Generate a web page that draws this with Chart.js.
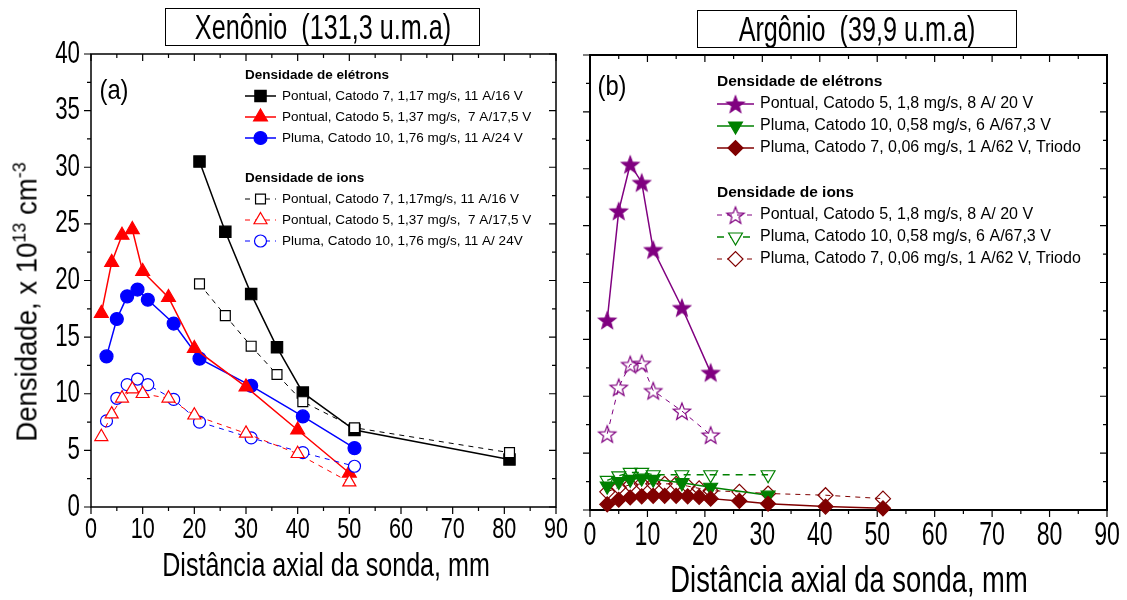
<!DOCTYPE html>
<html><head><meta charset="utf-8">
<script src="https://cdn.jsdelivr.net/npm/chart.js@4/dist/chart.umd.min.js"></script>
<style>
body{margin:0;width:1127px;height:600px;position:relative;background:#fff;overflow:hidden;font-family:'Liberation Sans',Arial,sans-serif;}
canvas{position:absolute;top:0;}
.box{position:absolute;border:1.5px solid #000;background:#fff;box-sizing:border-box;}
.box span{position:absolute;left:50%;top:50%;white-space:nowrap;font-size:35px;transform:translate(-50%,-50%) scaleX(0.72);}
.txt{position:absolute;white-space:nowrap;}
sup{font-size:65%;vertical-align:super;line-height:0;}
</style></head>
<body>
<canvas id="ca" width="575" height="600" style="left:0;width:575px;height:600px"></canvas>
<canvas id="cb" width="552" height="600" style="left:575px;width:552px;height:600px"></canvas>
<div class="box" style="left:165px;top:8px;width:315px;height:38px;"><span>Xenônio&nbsp; (131,3 u.m.a)</span></div>
<div class="box" style="left:697px;top:10px;width:320px;height:38px;"><span>Argônio&nbsp; (39,9 u.m.a)</span></div>
<div class="txt" style="left:114px;top:90px;font-size:28px;transform:translate(-50%,-50%) scaleX(0.85);">(a)</div>
<div class="txt" style="left:612px;top:86px;font-size:28px;transform:translate(-50%,-50%) scaleX(0.85);">(b)</div>
<div class="txt" style="left:326px;top:565px;font-size:33px;transform:translate(-50%,-50%) scaleX(0.76);">Distância axial da sonda, mm</div>
<div class="txt" style="left:849px;top:580px;font-size:36px;transform:translate(-50%,-50%) scaleX(0.76);">Distância axial da sonda, mm</div>
<div class="txt" style="left:27px;top:302px;font-size:29px;transform:translate(-50%,-50%) rotate(-90deg) scaleX(0.95);">Densidade, x 10<sup>13</sup> cm<sup>-3</sup></div>
<script>
// ---------- DATA ----------
const xeNames = ["Pontual, Catodo 7, 1,17 mg/s, 11 A/16 V","Pontual, Catodo 5, 1,37 mg/s,  7 A/17,5 V","Pluma, Catodo 10, 1,76 mg/s, 11 A/24 V"];
const xeIonNames = ["Pontual, Catodo 7, 1,17mg/s, 11 A/16 V","Pontual, Catodo 5, 1,37 mg/s,  7 A/17,5 V","Pluma, Catodo 10, 1,76 mg/s, 11 A/ 24V"];
const xeBlackX = [21,26,31,36,41,51,81];
const xeElecBlackY = [30.5,24.3,18.8,14.1,10.1,6.8,4.2];
const xeIonBlackY = [19.7,16.9,14.2,11.7,9.3,7.0,4.8];
const xeRedX = [2,4,6,8,10,15,20,30,40,50];
const xeElecRedY = [17.1,21.6,24.0,24.5,20.8,18.5,14.0,10.6,6.8,3.0];
const xeIonRedY = [6.2,8.2,9.6,10.4,10.0,9.6,8.1,6.5,4.7,2.2];
const xeBlueX = [3,5,7,9,11,16,21,31,41,51];
const xeElecBlueY = [13.3,16.6,18.6,19.2,18.3,16.2,13.1,10.7,8.0,5.2];
const xeIonBlueY = [7.6,9.6,10.8,11.3,10.8,9.5,7.5,6.1,4.8,3.6];

const arNames = ["Pontual, Catodo 5, 1,8 mg/s, 8 A/ 20 V","Pluma, Catodo 10, 0,58 mg/s, 6 A/67,3 V","Pluma, Catodo 7, 0,06 mg/s, 1 A/62 V, Triodo"];
const arPurpleX = [3,5,7,9,11,16,21];
const arElecPurpleY = [16.7,26.3,30.4,28.8,22.9,17.8,12.1];
const arIonPurpleY = [6.7,10.8,12.8,12.9,10.5,8.7,6.6];
const arGreenX = [3,5,7,9,11,16,21,31];
const arElecGreenY = [2.1,2.5,2.7,2.8,2.7,2.4,2.0,1.3];
const arIonGreenY = [2.6,3.0,3.3,3.3,3.1,3.1,3.1,3.1];
const arDarkRedX = [3,5,7,9,11,13,15,17,19,21,26,31,41,51];
const arElecDarkRedY = [0.5,0.9,1.1,1.2,1.25,1.25,1.25,1.2,1.15,1.0,0.8,0.55,0.3,0.15];
const arIonDarkRedY = [1.6,2.0,2.2,2.3,2.3,2.3,2.3,2.1,1.9,1.7,1.6,1.45,1.3,1.0];

const xTicks = [0,10,20,30,40,50,60,70,80,90];
const yTicks = [0,5,10,15,20,25,30,35,40];
const headings = ["Densidade de elétrons","Densidade de ions"];

// ---------- helpers ----------
const REG = "'Liberation Sans',Arial,sans-serif";
function pts(xs, ys){ return xs.map((x,i)=>({x, y: ys[i]})); }
function starImg(r, color, filled){
  const s = Math.ceil(2*r+4), c = document.createElement('canvas'); c.width = s; c.height = s;
  const g = c.getContext('2d'); g.beginPath();
  for (let i=0;i<10;i++){ const rr = i%2? r*0.42 : r; const a = -Math.PI/2 + i*Math.PI/5;
    const px = s/2 + rr*Math.cos(a), py = s/2 + 1 + rr*Math.sin(a); i? g.lineTo(px,py) : g.moveTo(px,py); }
  g.closePath();
  if (filled){ g.fillStyle = color; g.fill(); }
  g.strokeStyle = color; g.lineWidth = 1.2; g.stroke();
  return c;
}
function ds(label, data, color, opt){
  return Object.assign({label, data, borderColor: color, backgroundColor: color, pointBorderColor: color,
    pointBackgroundColor: color, borderWidth: 1.5, pointBorderWidth: 1.2, tension: 0, clip: false, showLine: true}, opt);
}

function scaledText(ctx, text, x, y, size, sx, align){
  ctx.save(); ctx.translate(x, y); ctx.scale(sx, 1);
  ctx.font = size + 'px ' + REG; ctx.textAlign = align; ctx.textBaseline = 'middle'; ctx.fillStyle = '#000';
  ctx.fillText(text, 0, 0); ctx.restore();
}

const framePlugin = (cfg) => ({ id:'frame',
  beforeDatasetsDraw(chart){
    const {ctx, chartArea:a, scales:{x, y}} = chart; ctx.save();
    ctx.strokeStyle = '#000'; ctx.lineWidth = cfg.lw;
    ctx.strokeRect(a.left, a.top, a.right-a.left, a.bottom-a.top);
    ctx.lineWidth = 1.2; ctx.beginPath();
    for (let v=0; v<=90; v+=5){ const p = x.getPixelForValue(v); const L = v%10===0 ? 7 : 4;
      ctx.moveTo(p, a.bottom); ctx.lineTo(p, a.bottom+L); ctx.moveTo(p, a.top); ctx.lineTo(p, a.top+L); }
    for (let v=0; v<=40; v+=2.5){ const p = y.getPixelForValue(v); const L = v%5===0 ? 7 : 4;
      ctx.moveTo(a.left-L, p); ctx.lineTo(a.left, p); ctx.moveTo(a.right-L, p); ctx.lineTo(a.right, p); }
    ctx.stroke();
    xTicks.forEach(v => scaledText(ctx, String(v), x.getPixelForValue(v), cfg.xLabelY, cfg.xSize, cfg.sx, 'center'));
    if (cfg.yLabels) yTicks.forEach(v => scaledText(ctx, String(v), a.left - 11, y.getPixelForValue(v), cfg.ySize, cfg.sx, 'right'));
    ctx.restore();
  }});

const legendPlugin = (cfg) => ({ id:'clegend', afterDatasetsDraw(chart){
  const ctx = chart.ctx; ctx.save(); ctx.textBaseline = 'middle'; ctx.textAlign = 'left';
  cfg.groups.forEach(g => {
    ctx.font = 'bold ' + cfg.hSize + 'px ' + REG; ctx.fillStyle = '#000';
    ctx.fillText(g.title, cfg.x0, g.y);
    g.rows.forEach((di, k) => {
      const d = chart.data.datasets[di]; const yy = g.y + (k+1)*cfg.rowH;
      ctx.save(); ctx.strokeStyle = d.borderColor; ctx.lineWidth = d.borderWidth;
      ctx.setLineDash(d.borderDash || []); ctx.beginPath(); ctx.moveTo(cfg.x0, yy); ctx.lineTo(cfg.x1, yy); ctx.stroke();
      ctx.setLineDash([]);
      ctx.fillStyle = d.legendFill || d.pointBackgroundColor; ctx.strokeStyle = d.pointBorderColor; ctx.lineWidth = d.pointBorderWidth;
      Chart.helpers.drawPoint(ctx, {pointStyle: d.pointStyle, radius: d.pointRadius, rotation: d.pointRotation || 0, borderWidth: d.pointBorderWidth}, (cfg.x0+cfg.x1)/2, yy);
      ctx.restore();
      ctx.font = cfg.tSize + 'px ' + REG; ctx.fillStyle = '#000';
      ctx.fillText(d.label, cfg.tx, yy);
    });
  });
  ctx.restore();
}});

function scales(yWidth, xHeight){
  return {
    x: {type:'linear', min:0, max:90, afterFit: s => { s.height = xHeight; },
        grid:{display:false}, border:{display:false}, ticks:{display:false}},
    y: {type:'linear', min:0, max:40, afterFit: s => { s.width = yWidth; },
        grid:{display:false}, border:{display:false}, ticks:{display:false}}
  };
}
const common = {responsive:false, animation:false, events:[], plugins:{legend:{display:false}, tooltip:{enabled:false}}};

// ---------- Panel (a): Xenon ----------
const white = '#ffffff';
new Chart(document.getElementById('ca'), {
  type:'scatter',
  data:{datasets:[
    ds(xeNames[0], pts(xeBlackX, xeElecBlackY), '#000000', {pointStyle:'rect', pointRadius:8, order:2}),
    ds(xeNames[1], pts(xeRedX, xeElecRedY), '#ff0000', {pointStyle:'triangle', pointRadius:8, order:2}),
    ds(xeNames[2], pts(xeBlueX, xeElecBlueY), '#0000ff', {pointStyle:'circle', pointRadius:6.5, order:2}),
    ds(xeIonNames[0], pts(xeBlackX, xeIonBlackY), '#000000', {pointStyle:'rect', pointRadius:7, pointBackgroundColor:white, borderWidth:1, borderDash:[5,5], order:1}),
    ds(xeIonNames[1], pts(xeRedX, xeIonRedY), '#ff0000', {pointStyle:'triangle', pointRadius:7.5, pointBackgroundColor:white, borderWidth:1, borderDash:[5,5], order:1}),
    ds(xeIonNames[2], pts(xeBlueX, xeIonBlueY), '#0000ff', {pointStyle:'circle', pointRadius:6, pointBackgroundColor:white, borderWidth:1, borderDash:[5,5], order:1})
  ]},
  options:Object.assign({}, common, {layout:{padding:{left:0, top:54, right:19, bottom:53}}, scales:scales(91, 40)}),
  plugins:[framePlugin({lw:1.5, xLabelY:530, xSize:30, ySize:31, sx:0.72, yLabels:true}),
    legendPlugin({x0:245, x1:276, tx:282, hSize:13.5, tSize:13.5, rowH:21,
    groups:[{title:headings[0], y:75, rows:[0,1,2]}, {title:headings[1], y:178, rows:[3,4,5]}]})]
});

// ---------- Panel (b): Argon ----------
const clear = 'rgba(255,255,255,0)';
new Chart(document.getElementById('cb'), {
  type:'scatter',
  data:{datasets:[
    ds(arNames[0], pts(arPurpleX, arElecPurpleY), '#800080', {pointStyle:starImg(9,'#800080',true), pointRadius:9, order:2}),
    ds(arNames[1], pts(arGreenX, arElecGreenY), '#008000', {pointStyle:'triangle', pointRotation:180, pointRadius:8, order:2}),
    ds(arNames[2], pts(arDarkRedX, arElecDarkRedY), '#800000', {pointStyle:'rectRot', pointRadius:7.5, order:1}),
    ds(arNames[0], pts(arPurpleX, arIonPurpleY), '#800080', {pointStyle:starImg(9,'#800080',false), pointRadius:9, pointBackgroundColor:clear, legendFill:white, borderWidth:1, borderDash:[5,5], order:3}),
    ds(arNames[1], pts(arGreenX, arIonGreenY), '#008000', {pointStyle:'triangle', pointRotation:180, pointRadius:8, pointBackgroundColor:clear, legendFill:white, borderWidth:1.4, borderDash:[7,6], order:3}),
    ds(arNames[2], pts(arDarkRedX, arIonDarkRedY), '#800000', {pointStyle:'rectRot', pointRadius:7.5, pointBackgroundColor:clear, legendFill:white, borderWidth:1, borderDash:[5,5], order:3})
  ]},
  options:Object.assign({}, common, {layout:{padding:{left:15, top:55, right:20, bottom:45}}, scales:scales(0, 45)}),
  plugins:[framePlugin({lw:2, xLabelY:536, xSize:33, ySize:31, sx:0.7, yLabels:false}),
    legendPlugin({x0:142, x1:179, tx:185, hSize:15.5, tSize:16, rowH:22,
    groups:[{title:headings[0], y:82, rows:[0,1,2]}, {title:headings[1], y:193, rows:[3,4,5]}]})]
});
</script>
</body></html>
